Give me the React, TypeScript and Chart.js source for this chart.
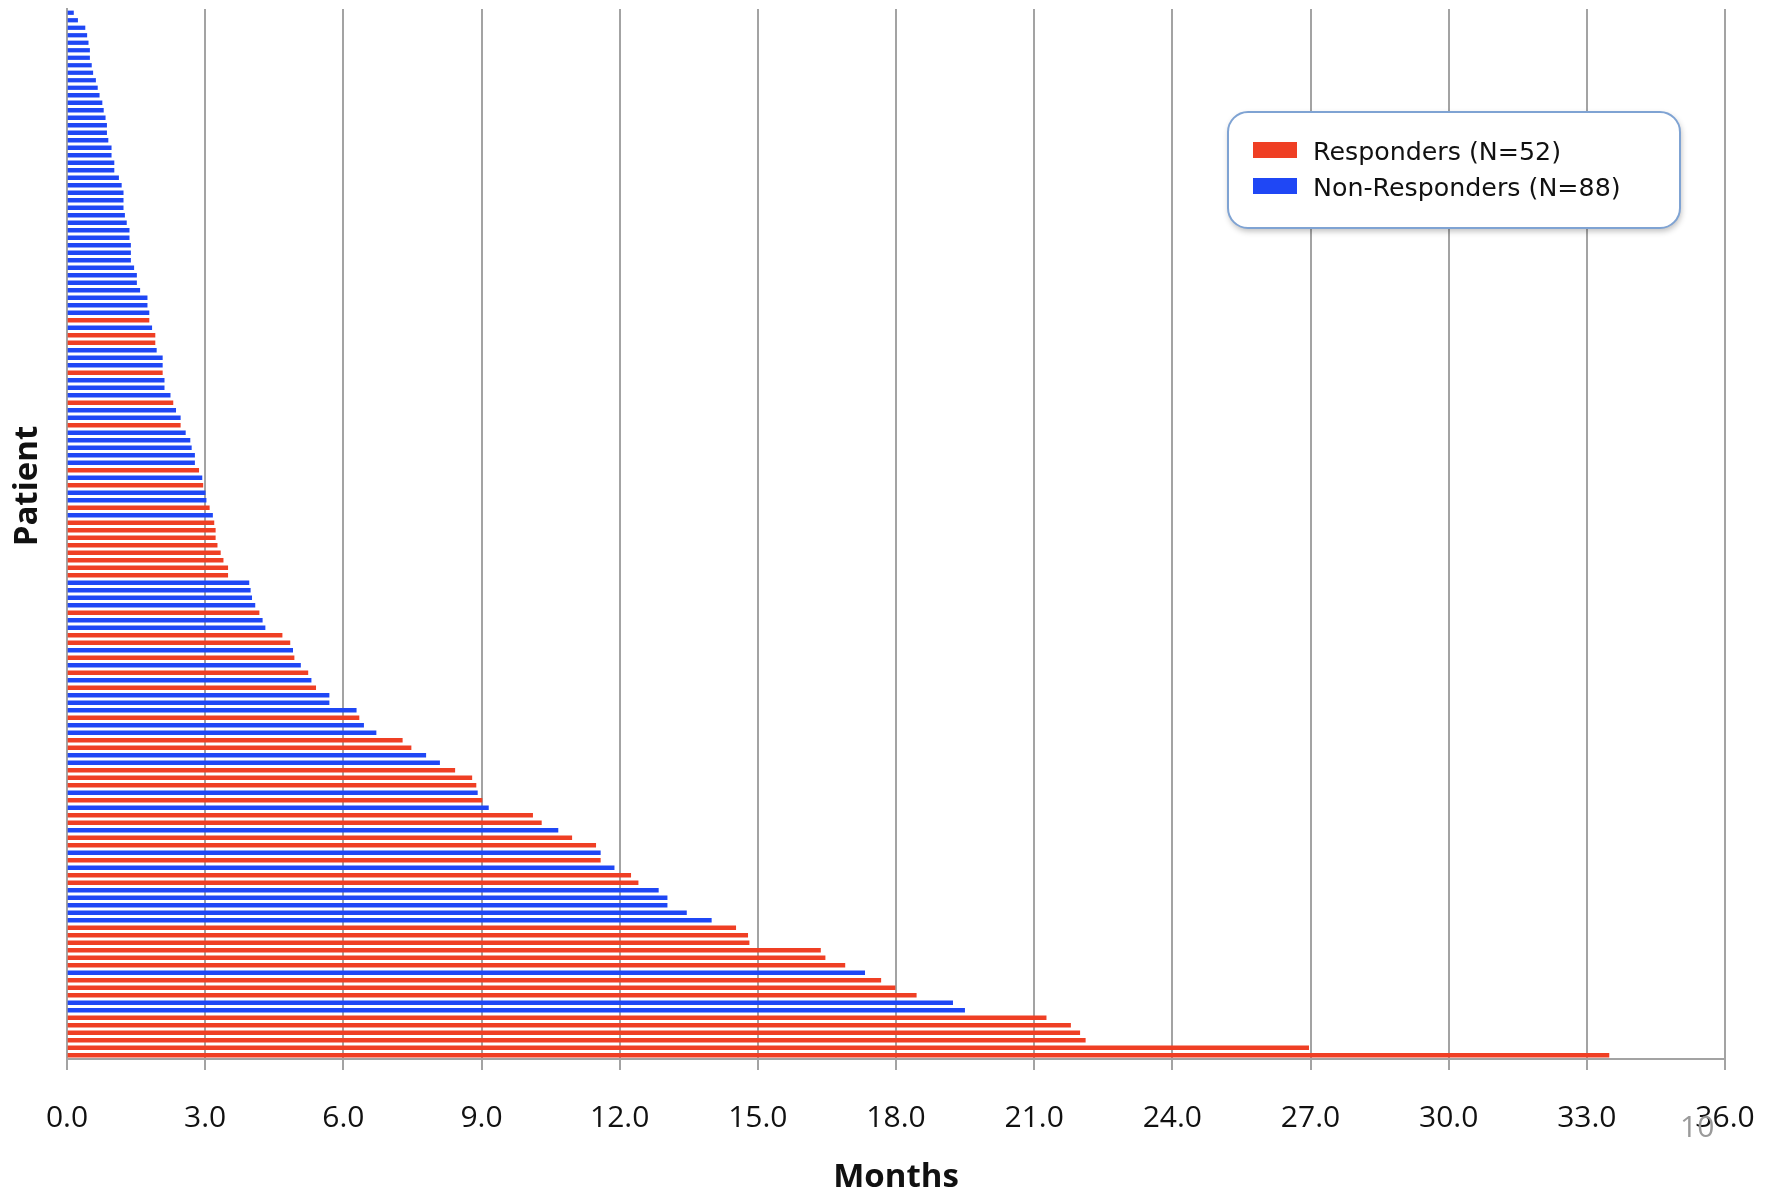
import React, { useEffect, useRef } from "react";
import { Chart, registerables } from "chart.js";

Chart.register(...registerables);

// Duration (months) of each patient, top to bottom
const months: number[] = [
  0.14, 0.23, 0.39, 0.43, 0.46, 0.49, 0.49, 0.53, 0.56, 0.62,
  0.66, 0.70, 0.76, 0.79, 0.83, 0.86, 0.86, 0.89, 0.96, 0.96,
  1.02, 1.02, 1.12, 1.18, 1.22, 1.22, 1.22, 1.25, 1.29, 1.35,
  1.35, 1.38, 1.38, 1.38, 1.45, 1.51, 1.51, 1.58, 1.74, 1.74,
  1.78, 1.78, 1.84, 1.91, 1.91, 1.94, 2.07, 2.07, 2.07, 2.11,
  2.11, 2.24, 2.30, 2.36, 2.46, 2.46, 2.57, 2.67, 2.70, 2.77,
  2.77, 2.86, 2.93, 2.95, 3.00, 3.02, 3.09, 3.16, 3.19, 3.22,
  3.22, 3.26, 3.33, 3.39, 3.49, 3.49, 3.95, 3.98, 4.01, 4.08,
  4.17, 4.24, 4.30, 4.67, 4.84, 4.90, 4.93, 5.07, 5.23, 5.30,
  5.40, 5.69, 5.69, 6.28, 6.34, 6.44, 6.71, 7.28, 7.47, 7.79,
  8.09, 8.42, 8.79, 8.88, 8.91, 9.01, 9.15, 10.11, 10.30, 10.66,
  10.96, 11.48, 11.58, 11.58, 11.88, 12.24, 12.40, 12.84, 13.03, 13.03,
  13.45, 13.99, 14.52, 14.78, 14.81, 16.36, 16.46, 16.89, 17.32, 17.67,
  17.98, 18.44, 19.23, 19.49, 21.26, 21.79, 21.99, 22.11, 26.96, 33.48,
];

// R = responder, N = non-responder, same order as months
const group: string[] = [
  "N","N","N","N","N","N","N","N","N","N",
  "N","N","N","N","N","N","N","N","N","N",
  "N","N","N","N","N","N","N","N","N","N",
  "N","N","N","N","N","N","N","N","N","N",
  "N","R","N","R","R","N","N","N","R","N",
  "N","N","R","N","N","R","N","N","N","N",
  "N","R","N","R","N","N","R","N","R","R",
  "R","R","R","R","R","R","N","N","N","N",
  "R","N","N","R","R","N","R","N","R","N",
  "R","N","N","N","R","N","N","R","R","N",
  "N","R","R","R","N","R","N","R","R","N",
  "R","R","N","R","N","R","R","N","N","N",
  "N","N","R","R","R","R","R","R","N","R",
  "R","R","N","N","R","R","R","R","R","R",
];

const seriesLabels: string[] = ["Responders (N=52)", "Non-Responders (N=88)"];
const seriesColors: string[] = ["#EF3F24", "#1F47F5"];
const xTicks: number[] = [0, 3, 6, 9, 12, 15, 18, 21, 24, 27, 30, 33, 36];
const xTitle = "Months";
const yTitle = "Patient";
const pageNumber = "10";

const overlayPlugin = {
  id: "overlay",
  afterDraw(chart: any) {
    const ctx: CanvasRenderingContext2D = chart.ctx;
    ctx.save();
    // axis titles
    ctx.fillStyle = "#111";
    ctx.font = "bold 33px 'Open Sans'";
    ctx.textAlign = "center";
    ctx.textBaseline = "alphabetic";
    ctx.fillText(xTitle, 896, 1187);
    ctx.save();
    ctx.translate(37, 486);
    ctx.rotate(-Math.PI / 2);
    ctx.fillText(yTitle, 0, 0);
    ctx.restore();

    // legend box
    const bx = 1228, by = 112, bw = 452, bh = 116, r = 20;
    ctx.save();
    ctx.shadowColor = "rgba(0,0,0,0.28)";
    ctx.shadowBlur = 6;
    ctx.shadowOffsetX = 1;
    ctx.shadowOffsetY = 3;
    ctx.beginPath();
    ctx.roundRect(bx, by, bw, bh, r);
    ctx.fillStyle = "#ffffff";
    ctx.fill();
    ctx.restore();
    ctx.beginPath();
    ctx.roundRect(bx, by, bw, bh, r);
    ctx.lineWidth = 2;
    ctx.strokeStyle = "#7FA3D3";
    ctx.stroke();

    const ds = chart.data.datasets;
    const rows = [160, 196];
    ds.forEach((d: any, i: number) => {
      ctx.fillStyle = d.backgroundColor;
      ctx.fillRect(1253, rows[i] - 18, 44, 16);
      ctx.fillStyle = "#111";
      ctx.font = "25.3px 'DejaVu Sans'";
      ctx.textAlign = "left";
      ctx.textBaseline = "alphabetic";
      ctx.fillText(d.label, 1313, rows[i]);
    });

    // page number
    ctx.fillStyle = "#9a9a9a";
    ctx.font = "30px 'Open Sans'";
    ctx.textAlign = "left";
    ctx.fillText(pageNumber, 1680, 1137);
    ctx.restore();
  },
};

export default function App() {
  const ref = useRef<HTMLCanvasElement | null>(null);
  useEffect(() => {
    if (!ref.current) return;
    const labels = months.map((_, i) => String(i + 1));
    const resp = months.map((v, i) => (group[i] === "R" ? v : null));
    const non = months.map((v, i) => (group[i] === "N" ? v : null));
    const chart = new Chart(ref.current, {
      type: "bar",
      data: {
        labels,
        datasets: [
          { label: seriesLabels[0], data: resp, backgroundColor: seriesColors[0], grouped: false, barThickness: 3.6 } as any,
          { label: seriesLabels[1], data: non, backgroundColor: seriesColors[1], grouped: false, barThickness: 3.6 } as any,
        ],
      },
      options: {
        indexAxis: "y",
        responsive: false,
        animation: false,
        layout: { padding: { top: 9, right: 54, left: 0, bottom: 0 } },
        plugins: { legend: { display: false }, tooltip: { enabled: false } },
        scales: {
          x: {
            type: "linear",
            min: 0,
            max: 36,
            z: 1,
            afterBuildTicks: (axis: any) => {
              axis.ticks = xTicks.map((v) => ({ value: v }));
            },
            afterFit: (axis: any) => {
              axis.height = 134;
              axis.paddingLeft = 0;
              axis.paddingRight = 0;
            },
            ticks: {
              callback: (v: any) => Number(v).toFixed(1),
              font: { family: "'Open Sans'", size: 30 },
              color: "#111",
              padding: 30,
              maxRotation: 0,
            },
            grid: { color: "#a3a3a3", lineWidth: 2, tickLength: 11, drawTicks: true },
            border: { display: true, color: "#a3a3a3", width: 2 },
          },
          y: {
            type: "category",
            afterFit: (axis: any) => {
              axis.width = 67;
              axis.paddingTop = 0;
              axis.paddingBottom = 0;
            },
            ticks: { display: false },
            grid: { display: false },
            border: { display: true, color: "#a3a3a3", width: 2 },
          },
        },
      },
      plugins: [overlayPlugin],
    });
    return () => chart.destroy();
  }, []);
  return (
    <div style={{ position: "fixed", left: 0, top: 0, width: 1779, height: 1193, background: "#fff" }}>
      <canvas ref={ref} width={1779} height={1193} style={{ display: "block" }} />
    </div>
  );
}
